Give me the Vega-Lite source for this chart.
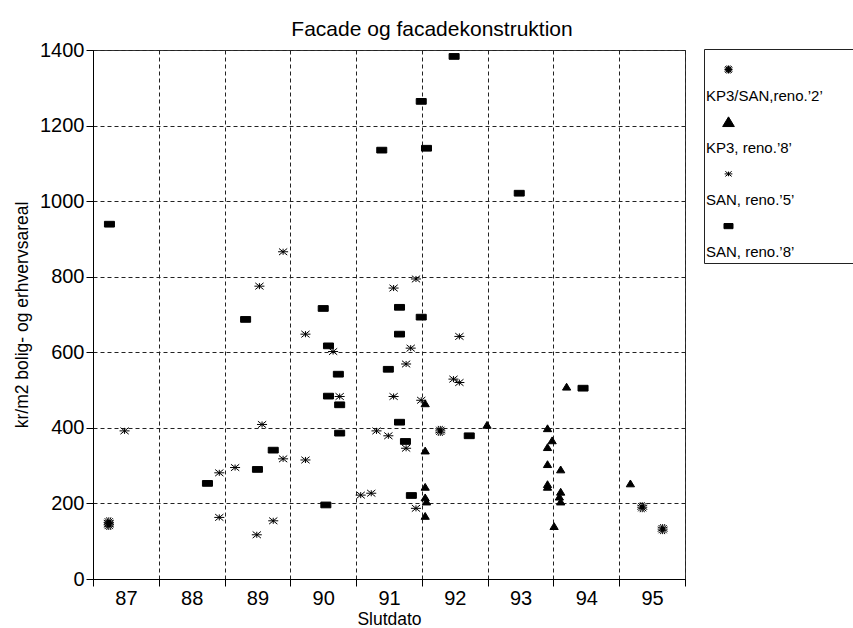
{
  "$schema": "https://vega.github.io/schema/vega-lite/v6.json",
  "width": 592,
  "height": 529,
  "autosize": "none",
  "padding": {"left": 93, "top": 50, "right": 168, "bottom": 49},
  "background": "white",
  "title": {"text": "Facade og facadekonstruktion", "font": "Liberation Sans", "fontSize": 21, "fontWeight": "normal", "color": "black", "anchor": "middle", "dx": 43, "offset": 0},
  "config": {
    "view": {"stroke": "#333", "strokeWidth": 1},
    "axis": {"labelFont": "Liberation Sans", "titleFont": "Liberation Sans", "labelColor": "black", "titleColor": "black", "titleFontWeight": "normal", "domainColor": "black", "tickColor": "black", "gridColor": "#222", "gridDash": [4, 3], "gridOpacity": 1, "gridWidth": 1}
  },
  "data": {"values": [
    {"d": 86.75, "v": 939, "s": "SAN, reno.’8’"},
    {"d": 88.24, "v": 253, "s": "SAN, reno.’8’"},
    {"d": 88.82, "v": 687, "s": "SAN, reno.’8’"},
    {"d": 89.0, "v": 290, "s": "SAN, reno.’8’"},
    {"d": 89.24, "v": 341, "s": "SAN, reno.’8’"},
    {"d": 90.0, "v": 716, "s": "SAN, reno.’8’"},
    {"d": 90.08, "v": 617, "s": "SAN, reno.’8’"},
    {"d": 90.23, "v": 542, "s": "SAN, reno.’8’"},
    {"d": 90.08, "v": 484, "s": "SAN, reno.’8’"},
    {"d": 90.25, "v": 461, "s": "SAN, reno.’8’"},
    {"d": 90.25, "v": 386, "s": "SAN, reno.’8’"},
    {"d": 90.04, "v": 196, "s": "SAN, reno.’8’"},
    {"d": 90.89, "v": 1135, "s": "SAN, reno.’8’"},
    {"d": 91.49, "v": 1264, "s": "SAN, reno.’8’"},
    {"d": 91.57, "v": 1140, "s": "SAN, reno.’8’"},
    {"d": 91.99, "v": 1383, "s": "SAN, reno.’8’"},
    {"d": 92.98, "v": 1021, "s": "SAN, reno.’8’"},
    {"d": 91.16, "v": 719, "s": "SAN, reno.’8’"},
    {"d": 91.49, "v": 693, "s": "SAN, reno.’8’"},
    {"d": 91.16, "v": 648, "s": "SAN, reno.’8’"},
    {"d": 90.99, "v": 555, "s": "SAN, reno.’8’"},
    {"d": 91.16, "v": 415, "s": "SAN, reno.’8’"},
    {"d": 91.25, "v": 364, "s": "SAN, reno.’8’"},
    {"d": 91.34, "v": 221, "s": "SAN, reno.’8’"},
    {"d": 92.22, "v": 379, "s": "SAN, reno.’8’"},
    {"d": 93.95, "v": 505, "s": "SAN, reno.’8’"},
    {"d": 86.98, "v": 392, "s": "SAN, reno.’5’"},
    {"d": 88.42, "v": 281, "s": "SAN, reno.’5’"},
    {"d": 88.66, "v": 295, "s": "SAN, reno.’5’"},
    {"d": 89.07, "v": 409, "s": "SAN, reno.’5’"},
    {"d": 89.39, "v": 318, "s": "SAN, reno.’5’"},
    {"d": 88.42, "v": 163, "s": "SAN, reno.’5’"},
    {"d": 89.24, "v": 154, "s": "SAN, reno.’5’"},
    {"d": 88.99, "v": 117, "s": "SAN, reno.’5’"},
    {"d": 89.39, "v": 866, "s": "SAN, reno.’5’"},
    {"d": 89.03, "v": 775, "s": "SAN, reno.’5’"},
    {"d": 89.73, "v": 648, "s": "SAN, reno.’5’"},
    {"d": 90.15, "v": 602, "s": "SAN, reno.’5’"},
    {"d": 89.73, "v": 315, "s": "SAN, reno.’5’"},
    {"d": 90.25, "v": 483, "s": "SAN, reno.’5’"},
    {"d": 91.41, "v": 794, "s": "SAN, reno.’5’"},
    {"d": 91.07, "v": 770, "s": "SAN, reno.’5’"},
    {"d": 91.33, "v": 611, "s": "SAN, reno.’5’"},
    {"d": 92.07, "v": 642, "s": "SAN, reno.’5’"},
    {"d": 91.26, "v": 569, "s": "SAN, reno.’5’"},
    {"d": 91.98, "v": 529, "s": "SAN, reno.’5’"},
    {"d": 92.07, "v": 520, "s": "SAN, reno.’5’"},
    {"d": 91.07, "v": 483, "s": "SAN, reno.’5’"},
    {"d": 91.49, "v": 473, "s": "SAN, reno.’5’"},
    {"d": 90.81, "v": 392, "s": "SAN, reno.’5’"},
    {"d": 90.99, "v": 379, "s": "SAN, reno.’5’"},
    {"d": 91.26, "v": 346, "s": "SAN, reno.’5’"},
    {"d": 90.57, "v": 222, "s": "SAN, reno.’5’"},
    {"d": 90.73, "v": 227, "s": "SAN, reno.’5’"},
    {"d": 91.41, "v": 187, "s": "SAN, reno.’5’"},
    {"d": 91.55, "v": 465, "s": "KP3, reno.’8’"},
    {"d": 91.55, "v": 340, "s": "KP3, reno.’8’"},
    {"d": 91.55, "v": 244, "s": "KP3, reno.’8’"},
    {"d": 91.55, "v": 216, "s": "KP3, reno.’8’"},
    {"d": 91.57, "v": 205, "s": "KP3, reno.’8’"},
    {"d": 91.55, "v": 167, "s": "KP3, reno.’8’"},
    {"d": 92.49, "v": 408, "s": "KP3, reno.’8’"},
    {"d": 93.7, "v": 509, "s": "KP3, reno.’8’"},
    {"d": 93.41, "v": 399, "s": "KP3, reno.’8’"},
    {"d": 93.48, "v": 367, "s": "KP3, reno.’8’"},
    {"d": 93.41, "v": 349, "s": "KP3, reno.’8’"},
    {"d": 93.41, "v": 304, "s": "KP3, reno.’8’"},
    {"d": 93.61, "v": 290, "s": "KP3, reno.’8’"},
    {"d": 93.41, "v": 251, "s": "KP3, reno.’8’"},
    {"d": 93.41, "v": 244, "s": "KP3, reno.’8’"},
    {"d": 93.61, "v": 231, "s": "KP3, reno.’8’"},
    {"d": 93.59, "v": 218, "s": "KP3, reno.’8’"},
    {"d": 93.61, "v": 205, "s": "KP3, reno.’8’"},
    {"d": 93.51, "v": 140, "s": "KP3, reno.’8’"},
    {"d": 94.67, "v": 253, "s": "KP3, reno.’8’"},
    {"d": 86.74, "v": 143, "s": "KP3/SAN,reno.’2’"},
    {"d": 86.74, "v": 150, "s": "KP3/SAN,reno.’2’"},
    {"d": 91.78, "v": 392, "s": "KP3/SAN,reno.’2’"},
    {"d": 94.85, "v": 190, "s": "KP3/SAN,reno.’2’"},
    {"d": 95.16, "v": 132, "s": "KP3/SAN,reno.’2’"}
  ]},
  "mark": {"type": "point", "filled": true, "fill": "black", "stroke": "black", "strokeWidth": 1, "opacity": 1, "size": 121},
  "encoding": {
    "x": {"field": "d", "type": "quantitative", "scale": {"domain": [86.5, 95.5], "nice": false, "zero": false},
      "axis": {"title": "Slutdato", "titleFontSize": 17.5, "titlePadding": 2, "values": [86.5, 87.5, 88.5, 89.5, 90.5, 91.5, 92.5, 93.5, 94.5, 95.5],
        "labelExpr": "datum.value < 95 ? format(datum.value + 0.5, 'd') : ''", "labelOffset": 32.9, "labelOverlap": false, "labelBound": false, "labelFlush": false,
        "labelFontSize": 20, "tickSize": 7, "labelPadding": 2}},
    "y": {"field": "v", "type": "quantitative", "scale": {"domain": [0, 1400], "nice": false},
      "axis": {"title": "kr/m2 bolig- og erhvervsareal", "titleFontSize": 17.5, "titlePadding": 8, "values": [0, 200, 400, 600, 800, 1000, 1200, 1400], "format": "d",
        "labelFontSize": 20, "tickSize": 7, "labelPadding": 2, "labelOverlap": false, "labelFlush": false, "labelBound": false}},
    "shape": {"field": "s", "type": "nominal",
      "scale": {"domain": ["KP3/SAN,reno.’2’", "KP3, reno.’8’", "SAN, reno.’5’", "SAN, reno.’8’"],
        "range": [
          "M-0.91,0L0.91,0M0,-0.91L0,0.91M-0.75,-0.75L0.75,0.75M-0.75,0.75L0.75,-0.75M-0.4,-0.91L0.4,0.91M-0.4,0.91L0.4,-0.91M-0.91,-0.4L0.91,0.4M-0.91,0.4L0.91,-0.4M-0.3,-0.3L0.3,-0.3L0.3,0.3L-0.3,0.3Z",
          "M0,-0.62L0.75,0.62L-0.75,0.62Z",
          "M-0.91,0L0.91,0M-0.75,-0.6L0.75,0.6M-0.75,0.6L0.75,-0.6M0,-0.55L0,0.55",
          "M-0.91,-0.52L0.91,-0.52L0.91,0.52L-0.91,0.52Z"
        ]},
      "legend": {"title": "................................................", "titleColor": "white", "titleFontSize": 11, "titlePadding": 0, "titleFont": "Liberation Sans", "titleLimit": 400,
        "orient": "none", "legendX": 611, "legendY": -1, "padding": 2,
        "strokeColor": "#222", "fillColor": "white",
        "labelFont": "Liberation Sans", "labelFontSize": 15, "labelColor": "black", "labelLimit": 300,
        "symbolSize": 121, "symbolFillColor": "black", "symbolStrokeColor": "black", "symbolStrokeWidth": 1, "symbolOpacity": 1,
        "symbolOffset": 15, "labelOffset": -11, "rowPadding": 10.2,
        "encoding": {"labels": {"dy": {"value": 26}, "dx": {"value": -19}},
          "symbols": {"stroke": {"value": "black"}, "strokeWidth": {"value": 1},
            "size": {"value": {"expr": "datum.value == 'KP3, reno.’8’' ? 243 : datum.value == 'SAN, reno.’8’' ? 98 : datum.value == 'SAN, reno.’5’' ? 72 : 78"}}}}}}
  }
}
